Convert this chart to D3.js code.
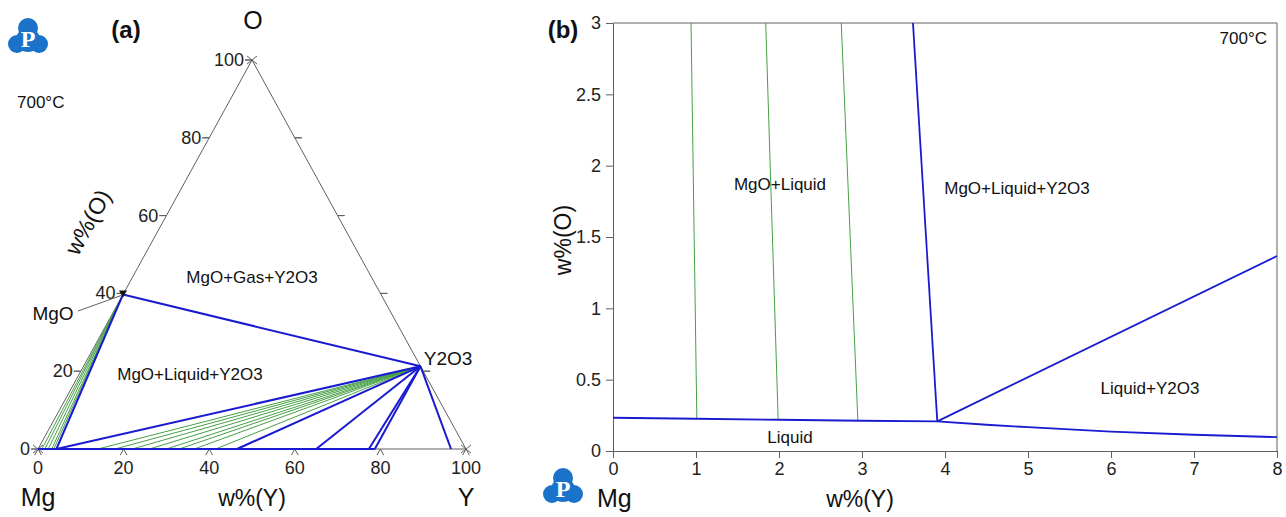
<!DOCTYPE html>
<html>
<head>
<meta charset="utf-8">
<script src="https://cdn.jsdelivr.net/npm/d3@7"></script>
<style>
  body { margin: 0; background: #fff; }
  svg { font-family: "Liberation Sans", Arial, sans-serif; }
</style>
</head>
<body>
<svg id="chart" width="1286" height="517"></svg>
<script>
// ---- data, panel (a): ternary Mg-Y-O at 700C (wt%) ----
const ternTicks = [0, 20, 40, 60, 80, 100];
const mgoPoint = { y: 0, o: 39.7 };
const y2o3Point = { y: 78.74, o: 21.26 };
const liquidFoot = 4.3;                               // liquid corner on Mg-Y edge
const mgoGreenFeet = [0.9, 1.6, 2.4, 3.2, 3.7];       // tie lines liquid - MgO
const y2o3GreenFeet = [14, 18, 22, 26, 30, 33, 36.5, 41.5]; // tie lines liquid - Y2O3
const y2o3BlueFeet = [46.5, 65, 77.3, 78.7, 96.5];

// ---- data, panel (b): Mg corner, w%(Y) vs w%(O) ----
const xTicksB = [0, 1, 2, 3, 4, 5, 6, 7, 8];
const yTicksB = [0, 0.5, 1, 1.5, 2, 2.5, 3];
const liquidusY = [0, 1, 2, 3, 3.907, 4.5, 5, 6, 7, 8];
const liquidusO = [0.233, 0.226, 0.219, 0.212, 0.208, 0.184, 0.167, 0.136, 0.114, 0.097];
const mgoBoundY = [3.614, 3.907];
const mgoBoundO = [3, 0.208];
const y2o3BoundY = [3.907, 8];
const y2o3BoundO = [0.208, 1.367];
const greenTopY = [0.94, 1.84, 2.75];
const greenBotY = [1.01, 1.99, 2.95];
const greenBotO = [0.229, 0.221, 0.213];

const BLUE = "#1a1ad0", GREEN = "#45a045", GREY = "#606060";
const svg = d3.select("#chart");

// ================= panel (a) =================
const ga = svg.append("g");
// scales for the (slightly stretched) ternary frame
const tx = d3.scaleLinear().domain([0, 100]).range([38, 466]);
const ty = d3.scaleLinear().domain([0, 100]).range([449, 60]);
const P = (y, o) => [tx(y + o / 2), ty(o)];
const line = d3.line();

// triangle
ga.append("path")
  .attr("d", line([P(0, 0), P(100, 0), P(0, 100)]) + "Z")
  .attr("fill", "none").attr("stroke", GREY).attr("stroke-width", 1);

// tick marks: short strokes along the other two edge directions, outward
function tickMark(pt, dirs) {
  dirs.forEach(d => {
    ga.append("line")
      .attr("x1", pt[0]).attr("y1", pt[1])
      .attr("x2", pt[0] + d[0] * 7).attr("y2", pt[1] + d[1] * 7)
      .attr("stroke", GREY).attr("stroke-width", 1);
  });
}
const A = P(0, 0), B = P(100, 0), C = P(0, 100);
const unit = (p, q) => { const dx = q[0] - p[0], dy = q[1] - p[1], l = Math.hypot(dx, dy); return [dx / l, dy / l]; };
ternTicks.forEach(t => {
  tickMark(P(t, 0), [unit(C, A), unit(C, B)]);       // bottom edge (Y)
  tickMark(P(0, t), [unit(B, A), [-1, 0]]);          // left edge (O)
  if (t > 0 && t < 100) tickMark(P(100 - t, t), [unit(A, B), [1, 0]]); // right edge
});
// vertex crosses
[A, B, C].forEach(v => {
  [[-1, -1], [1, -1], [-1, 1], [1, 1]].forEach(d => {
    ga.append("line").attr("x1", v[0]).attr("y1", v[1])
      .attr("x2", v[0] + d[0] * 5).attr("y2", v[1] + d[1] * 4)
      .attr("stroke", GREY);
  });
});

// tick labels
ternTicks.forEach(t => {
  const pb = P(t, 0);
  ga.append("text").attr("x", pb[0]).attr("y", pb[1] + 25)
    .attr("text-anchor", "middle").attr("font-size", 18).attr("fill", "#222").text(t);
  const pl = P(0, t);
  ga.append("text").attr("x", pl[0] - 8).attr("y", pl[1] + 6)
    .attr("text-anchor", "end").attr("font-size", 18).attr("fill", "#222").text(t);
});

// green tie lines
mgoGreenFeet.forEach(f => {
  ga.append("path").attr("d", line([P(f, 0), P(mgoPoint.y, mgoPoint.o)]))
    .attr("stroke", GREEN).attr("stroke-width", 1).attr("fill", "none");
});
y2o3GreenFeet.forEach(f => {
  ga.append("path").attr("d", line([P(f, 0), P(y2o3Point.y, y2o3Point.o)]))
    .attr("stroke", GREEN).attr("stroke-width", 1).attr("fill", "none");
});
// blue boundaries
const blueA = [
  [P(0, 0), P(y2o3BlueFeet[3], 0)],
  [P(liquidFoot, 0), P(mgoPoint.y, mgoPoint.o)],
  [P(liquidFoot, 0), P(y2o3Point.y, y2o3Point.o)],
  [P(mgoPoint.y, mgoPoint.o), P(y2o3Point.y, y2o3Point.o)]
];
y2o3BlueFeet.forEach(f => blueA.push([P(f, 0), P(y2o3Point.y, y2o3Point.o)]));
blueA.forEach(seg => {
  ga.append("path").attr("d", line(seg))
    .attr("stroke", BLUE).attr("stroke-width", 2).attr("fill", "none");
});
// MgO marker
const pm = P(mgoPoint.y, mgoPoint.o);
ga.append("path").attr("d", `M${pm[0] - 4},${pm[1] - 4}L${pm[0] + 4},${pm[1] - 4}L${pm[0]},${pm[1] + 3}Z`).attr("fill", "#111");
ga.append("line").attr("x1", 78).attr("y1", 311).attr("x2", pm[0] - 2).attr("y2", pm[1] + 1)
  .attr("stroke", GREY);

// texts (a)
const txt = (g, x, y, s, size, opts = {}) => g.append("text").attr("x", x).attr("y", y)
  .attr("font-size", size).attr("fill", "#111").attr("text-anchor", opts.anchor || "middle")
  .attr("font-weight", opts.bold ? "bold" : null).text(s);
txt(ga, 126, 38, "(a)", 24, { bold: true });
txt(ga, 253, 29, "O", 25);
txt(ga, 17, 108, "700°C", 17, { anchor: "start" });
txt(ga, 53, 320, "MgO", 19);
txt(ga, 252, 283, "MgO+Gas+Y2O3", 17);
txt(ga, 190, 380, "MgO+Liquid+Y2O3", 17);
txt(ga, 448, 365, "Y2O3", 19);
txt(ga, 38, 506, "Mg", 25);
txt(ga, 252, 506, "w%(Y)", 23);
txt(ga, 466, 506, "Y", 25);
ga.append("text").attr("transform", "translate(95,226) rotate(-61)")
  .attr("text-anchor", "middle").attr("font-size", 23).attr("fill", "#111").text("w%(O)");

// ================= panel (b) =================
const gb = svg.append("g");
const x = d3.scaleLinear().domain([0, 8]).range([613, 1277]);
const y = d3.scaleLinear().domain([0, 3]).range([451, 23]);

gb.append("g").attr("transform", "translate(0,451)")
  .call(d3.axisBottom(x).tickValues(xTicksB).tickFormat(d => String(d)).tickSize(7).tickSizeOuter(0).tickPadding(4))
  .call(g => g.selectAll("text").attr("font-size", 18).attr("fill", "#222"));
gb.append("g").attr("transform", "translate(613,0)")
  .call(d3.axisLeft(y).tickValues(yTicksB).tickFormat(d => String(d)).tickSize(7).tickSizeOuter(0).tickPadding(5))
  .call(g => g.selectAll("text").attr("font-size", 18).attr("fill", "#222"));
gb.selectAll(".domain, .tick line").attr("stroke", GREY);
// frame top/right
gb.append("path").attr("d", line([[x(0), y(3)], [x(8), y(3)], [x(8), y(0)]]))
  .attr("fill", "none").attr("stroke", GREY);

const lineB = d3.line().x(d => x(d[0])).y(d => y(d[1]));
greenTopY.forEach((t, i) => {
  gb.append("path").attr("d", lineB([[t, 3], [greenBotY[i], greenBotO[i]]]))
    .attr("stroke", GREEN).attr("stroke-width", 1).attr("fill", "none");
});
const blueB = [
  d3.zip(liquidusY, liquidusO),
  d3.zip(mgoBoundY, mgoBoundO),
  d3.zip(y2o3BoundY, y2o3BoundO)
];
blueB.forEach(pts => {
  gb.append("path").attr("d", lineB(pts))
    .attr("stroke", BLUE).attr("stroke-width", 1.8).attr("fill", "none");
});

txt(gb, 563, 38, "(b)", 24, { bold: true });
txt(gb, 1267, 44, "700°C", 17, { anchor: "end" });
txt(gb, 780, 190, "MgO+Liquid", 17);
txt(gb, 1017, 194, "MgO+Liquid+Y2O3", 17);
txt(gb, 1150, 394, "Liquid+Y2O3", 17);
txt(gb, 790, 443, "Liquid", 17);
txt(gb, 597, 507, "Mg", 25, { anchor: "start" });
txt(gb, 860, 507, "w%(Y)", 23);
gb.append("text").attr("transform", "translate(571,240) rotate(-90)")
  .attr("text-anchor", "middle").attr("font-size", 23).attr("fill", "#111").text("w%(O)");

// ---- logos ----
function logo(cx, cy) {
  const g = svg.append("g").attr("transform", `translate(${cx},${cy})`).attr("fill", "#1a73c8");
  g.append("circle").attr("cx", 0).attr("cy", -8).attr("r", 10);
  g.append("circle").attr("cx", -11).attr("cy", 8).attr("r", 9);
  g.append("circle").attr("cx", 11).attr("cy", 8).attr("r", 9);
  g.append("circle").attr("cx", 0).attr("cy", 4).attr("r", 12);
  g.append("text").attr("x", 0).attr("y", 11).attr("text-anchor", "middle")
    .attr("font-family", "Liberation Serif, serif").attr("font-weight", "bold")
    .attr("font-size", 24).attr("fill", "#fff").text("P");
}
logo(28, 36);
logo(563, 486);
</script>
</body>
</html>
